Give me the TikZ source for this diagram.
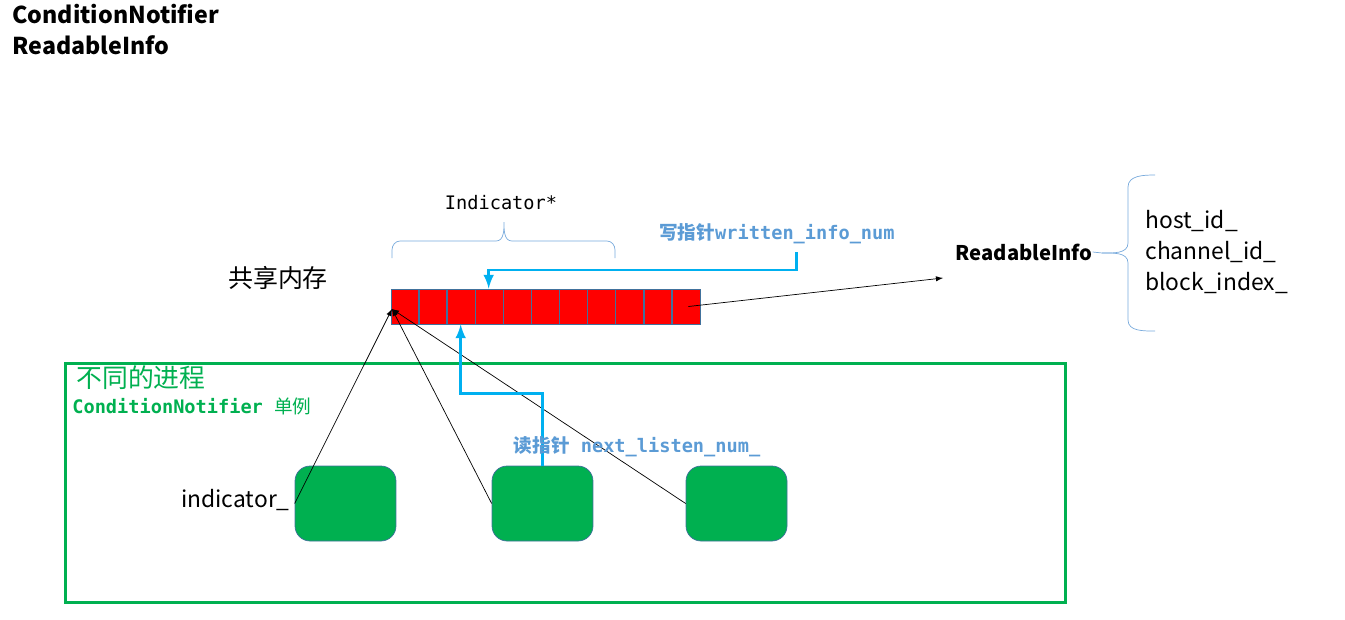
\documentclass[tikz,border=0pt]{standalone}
\usepackage{fontspec}
\setmainfont{Noto Sans CJK SC}
\setmonofont{DejaVu Sans Mono}
\newfontfamily\cjk{Noto Sans CJK SC}
\usetikzlibrary{arrows,positioning,calc}
\definecolor{shmred}{RGB}{255,0,0}
\definecolor{shmedge}{RGB}{65,113,156}
\definecolor{ptrcyan}{RGB}{0,176,240}
\definecolor{lblblue}{RGB}{91,155,213}
\definecolor{bracecol}{RGB}{120,170,220}
\definecolor{procgreen}{RGB}{0,176,80}

\begin{document}
\begin{tikzpicture}[x=0.02cm, y=-0.02cm,
    buffer/.style={draw=shmedge, fill=shmred, minimum width=6.18cm, minimum height=0.7cm, inner sep=0pt},
    proc/.style={draw=shmedge, fill=procgreen, rounded corners=0.3cm, minimum width=2.02cm, minimum height=1.5cm, inner sep=0pt},
    groupbox/.style={draw=procgreen, line width=1.7pt, minimum width=20.02cm, minimum height=4.8cm, inner sep=0pt},
    rw/.style={ptrcyan, line width=1.7pt, ->, >=latex},
    ptr/.style={black, thin, ->, >=latex},
    brace/.style={draw=bracecol, thin},
    plain/.style={font=\fontsize{13}{17.6}\selectfont, inner sep=0pt},
    monolbl/.style={font=\fontsize{10.6}{13}\selectfont\ttfamily\bfseries, text=lblblue, inner sep=0pt}
]
\useasboundingbox (0,0) rectangle (1345,619);

% Title
\node[plain, font=\fontsize{13.2}{17.6}\selectfont\bfseries, anchor=north west, align=left] (title) at (12,4) {ConditionNotifier\\ReadableInfo};

% Shared memory
\node[plain, font=\fontsize{14.2}{17}\selectfont] (shm) at (278,278) {共享内存};
\node[buffer] (buf) at (545.5,306.5) {};
\foreach \i in {1,...,10}
    \draw[shmedge, line width=0.8pt] (391+\i*28.09,289) -- (391+\i*28.09,324);

% Indicator* brace
\draw[brace] (392,258) -- (392,250) to[out=90,in=180] (400,241) -- (496,241) to[out=0,in=-90] (504,222) to[out=-90,in=180] (512,241) -- (607,241) to[out=0,in=90] (615,250) -- (615,258);
\node[font=\fontsize{10.6}{13}\selectfont\ttfamily, inner sep=0pt] (ind) at (501,203) {Indicator*};

% Write pointer
\node[monolbl] (wlbl) at (777,234) {{\cjk\bfseries 写指针}written\_info\_num};
\coordinate (wptr) at (796,252);
\draw[rw] (wptr) -- ++(0,18) -| ($(buf.north west)+(98,0)$);

% ReadableInfo
\node[plain, font=\fontsize{11.5}{14}\selectfont\bfseries] (info) at (1024,252) {ReadableInfo};
\coordinate (infoin) at (943,278);
\draw[ptr] ($(buf.east)+(-12,0)$) -- (infoin);
\draw[brace] (info.east) -- (1102,253) to[out=0,in=-90] (1128,243) -- (1128,187) to[out=90,in=180] (1155,175);
\draw[brace] (1102,253) to[out=0,in=90] (1128,263) -- (1128,320) to[out=-90,in=180] (1155,331);
\node[plain, anchor=west, align=left] (fields) at (1145,252) {host\_id\_\\channel\_id\_\\block\_index\_};

% Processes
\node[groupbox] (group) at (565.5,483) {};
\node[plain, font=\fontsize{14.7}{17}\selectfont, text=procgreen, anchor=west] (glbl) at (76,378) {不同的进程};
\node[monolbl, text=procgreen, anchor=west] (gsub) at (72,406) {ConditionNotifier {\cjk\mdseries 单例}};

\node[proc] (p1) at (345.5,503.5) {};
\node[proc] (p2) at (542.5,503.5) {};
\node[proc] (p3) at (736.5,503.5) {};
\node[plain, anchor=east] (indlbl) at (290,500) {indicator\_};

\coordinate (head) at (392,309);
\draw[ptr] (p1.west) -- (head);
\draw[ptr] (p2.west) -- (head);
\draw[ptr] (p3.west) -- (head);

% Read pointer
\draw[rw] (p2.north) -- ++(0,-72) -| ($(buf.south west)+(70,0)$);
\node[monolbl] (rlbl) at (637,447) {{\cjk\bfseries 读指针} next\_listen\_num\_};

\end{tikzpicture}
\end{document}
